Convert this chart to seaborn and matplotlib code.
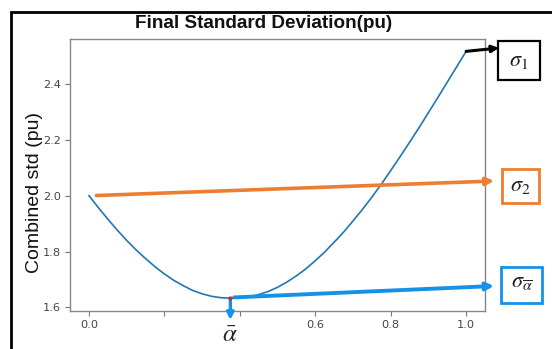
import numpy as np
import pandas as pd
import matplotlib
matplotlib.use("Agg")
import matplotlib.pyplot as plt
from matplotlib.patches import Rectangle
import seaborn as sns

# ---- data ----
alpha = [0.000, 0.025, 0.050, 0.075, 0.100, 0.125, 0.150, 0.175, 0.200, 0.225,
         0.250, 0.275, 0.300, 0.325, 0.350, 0.375, 0.400, 0.425, 0.450, 0.475,
         0.500, 0.525, 0.550, 0.575, 0.600, 0.625, 0.650, 0.675, 0.700, 0.725,
         0.750, 0.775, 0.800, 0.825, 0.850, 0.875, 0.900, 0.925, 0.950, 0.975,
         1.000]
combined_std = [2.000, 1.957, 1.916, 1.877, 1.840, 1.806, 1.775, 1.746, 1.720, 1.697,
                1.678, 1.661, 1.649, 1.640, 1.635, 1.633, 1.634, 1.638, 1.646, 1.657,
                1.672, 1.691, 1.713, 1.738, 1.767, 1.798, 1.833, 1.869, 1.909, 1.950,
                1.994, 2.040, 2.089, 2.139, 2.190, 2.242, 2.296, 2.350, 2.405, 2.460,
                2.515]
x_ticks = [0.0, 0.2, 0.4, 0.6, 0.8, 1.0]
x_tick_labels = ["0.0", "", "", "0.6", "0.8", "1.0"]
y_ticks = [1.6, 1.8, 2.0, 2.2, 2.4]
y_tick_labels = ["1.6", "1.8", "2.0", "2.2", "2.4"]
title = "Final Standard Deviation(pu)"
ylabel = "Combined std (pu)"
alpha_bar = 0.375
sigma_2 = 2.0

df = pd.DataFrame({"alpha": alpha, "std": combined_std})

sns.set_style("white")
plt.rcParams["mathtext.fontset"] = "stix"

W, H = 552, 349
fig = plt.figure(figsize=(W / 100, H / 100), dpi=100)
ax = fig.add_axes([70 / W, 1 - 310.6 / H, (485 - 70) / W, (310.6 - 39) / H])

sns.lineplot(data=df, x="alpha", y="std", ax=ax, color="#1f77b4", lw=1.2)
ax.margins(x=0.05, y=0.05)

ax.set_xticks(x_ticks)
ax.set_xticklabels(x_tick_labels)
ax.set_yticks(y_ticks)
ax.set_yticklabels(y_tick_labels)
ax.tick_params(axis="both", which="both", direction="out", length=3.5, width=0.8,
               colors="#777777", labelcolor="#444444", labelsize=8.2, pad=3,
               bottom=True, left=True)
ax.set_xlabel("")
ax.set_ylabel(ylabel, fontsize=14, family="Liberation Sans", color="#111111")
ax.yaxis.set_label_coords(-0.066, 0.435)
for s in ax.spines.values():
    s.set_color("#888888")
    s.set_linewidth(1.0)

fig.text(264 / W, 1 - 24 / H, title, ha="center", va="center", fontsize=13.6,
         fontweight="bold", family="Liberation Sans", color="#111111")

def fpx(px, py):
    return (px / W, 1 - py / H)

ymin = min(combined_std)
# minimum point marker
ax.plot([alpha_bar], [ymin], marker="o", ms=2, color="#d62728", zorder=4)

# black arrow to sigma_1
ax.annotate("", xy=fpx(499, 48), xycoords="figure fraction",
            xytext=(alpha[-1], combined_std[-1]), textcoords="data",
            arrowprops=dict(arrowstyle="-|>", color="black", lw=2.2,
                            mutation_scale=10, shrinkA=0, shrinkB=0),
            annotation_clip=False)
# orange arrow to sigma_2
ax.annotate("", xy=fpx(494, 181), xycoords="figure fraction",
            xytext=(0.02, sigma_2), textcoords="data",
            arrowprops=dict(arrowstyle="-|>", color="#ED7D31", lw=2.6,
                            mutation_scale=11, shrinkA=0, shrinkB=0),
            annotation_clip=False)
# blue arrow to sigma_alpha_bar
ax.annotate("", xy=fpx(494, 286), xycoords="figure fraction",
            xytext=(alpha_bar + 0.01, ymin + 0.003), textcoords="data",
            arrowprops=dict(arrowstyle="-|>", color="#1592E8", lw=2.8,
                            mutation_scale=11, shrinkA=0, shrinkB=0),
            annotation_clip=False)
# blue down arrow to alpha_bar
ax.annotate("", xy=(alpha_bar, 1 - 320 / H), xycoords=("data", "figure fraction"),
            xytext=(alpha_bar, ymin), textcoords="data",
            arrowprops=dict(arrowstyle="-|>", color="#1592E8", lw=2.4,
                            mutation_scale=10, shrinkA=0, shrinkB=0),
            annotation_clip=False)
ax.annotate(r"$\bar{\alpha}$", xy=(alpha_bar, 1 - 335 / H), xycoords=("data", "figure fraction"),
            ha="center", va="center", fontsize=18, annotation_clip=False)

# labelled boxes
boxes = [
    (498, 41, 540, 80, "black", 1.6, r"$\sigma_1$", 61),
    (502, 169, 539, 203, "#ED7D31", 2.0, r"$\sigma_2$", 186),
    (501, 267, 542, 303, "#1592E8", 2.0, r"$\sigma_{\overline{\alpha}}$", 283),
]
for x0, y0, x1, y1, col, lw, lab, ty in boxes:
    fig.patches.append(Rectangle(fpx(x0, y1), (x1 - x0) / W, (y1 - y0) / H,
                                 transform=fig.transFigure, fill=False,
                                 edgecolor=col, lw=lw))
    fig.text((x0 + x1) / 2 / W, 1 - ty / H, lab, ha="center", va="center",
             fontsize=16, color="#222222")

# outer frame (extends past right and bottom edges)
fig.patches.append(Rectangle(fpx(10.5, 500), 2.0, (500 - 11.5) / H,
                             transform=fig.transFigure, fill=False,
                             edgecolor="black", lw=2.0))

fig.savefig("out.png", dpi=100)
